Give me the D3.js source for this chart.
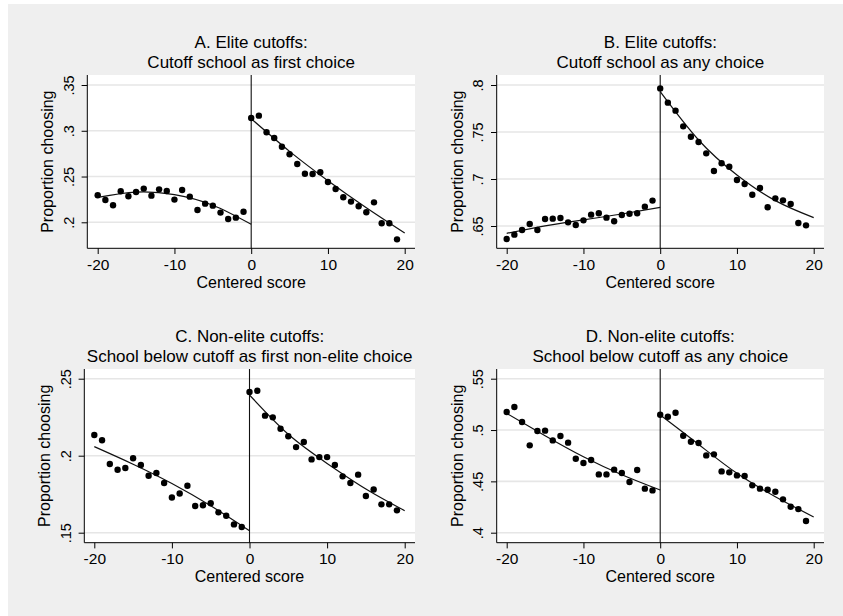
<!DOCTYPE html>
<html>
<head>
<meta charset="utf-8">
<script src="https://cdnjs.cloudflare.com/ajax/libs/d3/7.8.5/d3.min.js"></script>
<style>
  body { margin: 0; background: #fff; }
  svg { display: block; font-family: 'Liberation Sans', Arial, sans-serif; }
</style>
</head>
<body>
<svg></svg>
<script>
'use strict';

// scores (x) for binned points and for the fitted lines
var scoreBelow = [-20, -19, -18, -17, -16, -15, -14, -13, -12, -11, -10, -9, -8, -7, -6, -5, -4, -3, -2, -1];
var scoreAbove = [0, 1, 2, 3, 4, 5, 6, 7, 8, 9, 10, 11, 12, 13, 14, 15, 16, 17, 18, 19];
var fitScoreBelow = [-20, -15, -10, -5, 0];
var fitScoreAbove = [0, 5, 10, 15, 20];
var xTicks = [-20, -10, 0, 10, 20];

// A. Elite cutoffs: cutoff school as first choice
var aBelow = [.2295, .2244, .2186, .2339, .2284, .2331, .2368, .2291, .2360, .2342,
              .2248, .2353, .2280, .2135, .2204, .2182, .2106, .2036, .2051, .2116];
var aAbove = [.3139, .3165, .2983, .2921, .2826, .2743, .2637, .2531, .2528, .2546,
              .2440, .2364, .2273, .2226, .2175, .2109, .2218, .1989, .1989, .1814];
var aFitBelow = [.2273, .2330, .2302, .2186, .1978];
var aFitAbove = [.3132, .2775, .2455, .2160, .1884];
var aTicks = [.2, .25, .3, .35];

// B. Elite cutoffs: cutoff school as any choice
var bBelow = [.6362, .6408, .6457, .6521, .6457, .6574, .6578, .6585, .6539, .6511,
              .6560, .6621, .6635, .6589, .6550, .6617, .6631, .6635, .6706, .6770];
var bAbove = [.7964, .7812, .7727, .7560, .7450, .7394, .7273, .7085, .7167, .7131,
              .6989, .6947, .6833, .6904, .6699, .6794, .6773, .6734, .6532, .6507];
var bFitBelow = [.6422, .6502, .6565, .6628, .6699];
var bFitAbove = [.7929, .7415, .7043, .6770, .6589];
var bTicks = [.65, .7, .75, .8];

// C. Non-elite cutoffs: school below cutoff as first non-elite choice
var cBelow = [.2134, .2100, .1946, .1909, .1920, .1983, .1940, .1870, .1888, .1823,
              .1729, .1755, .1805, .1673, .1678, .1691, .1632, .1610, .1554, .1537];
var cAbove = [.2414, .2422, .2260, .2249, .2175, .2126, .2056, .2089, .1976, .1991,
              .1991, .1940, .1866, .1823, .1877, .1738, .1781, .1684, .1684, .1645];
var cFitBelow = [.2059, .1945, .1820, .1675, .1513];
var cFitAbove = [.2394, .2139, .1950, .1784, .1643];
var cTicks = [.15, .2, .25];

// D. Non-elite cutoffs: school below cutoff as any choice
var dBelow = [.5175, .5224, .5078, .4851, .4990, .4994, .4899, .4942, .4877, .4721,
              .4679, .4708, .4568, .4568, .4614, .4581, .4494, .4610, .4429, .4412];
var dAbove = [.5149, .5130, .5169, .4945, .4886, .4873, .4753, .4763, .4597, .4588,
              .4558, .4552, .4461, .4429, .4419, .4399, .4325, .4253, .4230, .4114];
var dFitBelow = [.5162, .4945, .4740, .4565, .4416];
var dFitAbove = [.5146, .4860, .4578, .4351, .4153];
var dTicks = [.4, .45, .5, .55];

var canvasWidth = 843;
var canvasHeight = 616;

var panels = [
  { title: ['A. Elite cutoffs:', 'Cutoff school as first choice'],
    below: aBelow, above: aAbove, fitBelow: aFitBelow, fitAbove: aFitAbove, ticks: aTicks,
    box: { x0: 87.3, x1: 415, y0: 75, y1: 248.3 }, xRange: [97.7, 404.7], yRange: [222.3, 85] },
  { title: ['B. Elite cutoffs:', 'Cutoff school as any choice'],
    below: bBelow, above: bAbove, fitBelow: bFitBelow, fitAbove: bFitAbove, ticks: bTicks,
    box: { x0: 496.7, x1: 824, y0: 75, y1: 248.3 }, xRange: [506.7, 813.7], yRange: [226, 85] },
  { title: ['C. Non-elite cutoffs:', 'School below cutoff as first non-elite choice'],
    below: cBelow, above: cAbove, fitBelow: cFitBelow, fitAbove: cFitAbove, ticks: cTicks,
    box: { x0: 84.3, x1: 415, y0: 369, y1: 542.7 }, xRange: [94.3, 404.7], yRange: [532.7, 378.7] },
  { title: ['D. Non-elite cutoffs:', 'School below cutoff as any choice'],
    below: dBelow, above: dAbove, fitBelow: dFitBelow, fitAbove: dFitAbove, ticks: dTicks,
    box: { x0: 496.7, x1: 824, y0: 369, y1: 542.7 }, xRange: [506.7, 813.7], yRange: [532.7, 378.7] }
];

var svg = d3.select('svg')
  .attr('width', canvasWidth)
  .attr('height', canvasHeight);

// gray graph region
svg.append('rect')
  .attr('x', 8).attr('y', 4)
  .attr('width', canvasWidth - 8).attr('height', canvasHeight - 4)
  .attr('fill', '#efefef');

// stata style labels: ".25", "-20"
function fmt(d) {
  return String(d).replace(/^0\./, '.');
}

panels.forEach(function(p) {
  var b = p.box;
  var xScale = d3.scaleLinear().domain([-20, 20]).range(p.xRange);
  var yScale = d3.scaleLinear()
    .domain([p.ticks[0], p.ticks[p.ticks.length - 1]])
    .range(p.yRange);
  var g = svg.append('g');

  // plot region
  g.append('rect')
    .attr('x', b.x0).attr('y', b.y0)
    .attr('width', b.x1 - b.x0).attr('height', b.y1 - b.y0)
    .attr('fill', '#fff');

  // horizontal grid
  g.selectAll('.grid')
    .data(p.ticks)
    .enter().append('line')
    .attr('class', 'grid')
    .attr('x1', b.x0).attr('x2', b.x1)
    .attr('y1', function(d) { return yScale(d); })
    .attr('y2', function(d) { return yScale(d); })
    .attr('stroke', '#e6e6e6')
    .attr('stroke-width', 1.6);

  // cutoff line
  g.append('line')
    .attr('x1', xScale(0)).attr('x2', xScale(0))
    .attr('y1', b.y0).attr('y2', b.y1)
    .attr('stroke', '#111')
    .attr('stroke-width', 1.1);

  // fitted lines
  var line = d3.line()
    .x(function(d) { return xScale(d[0]); })
    .y(function(d) { return yScale(d[1]); })
    .curve(d3.curveNatural);
  [[fitScoreBelow, p.fitBelow], [fitScoreAbove, p.fitAbove]].forEach(function(s) {
    g.append('path')
      .attr('d', line(d3.zip(s[0], s[1])))
      .attr('fill', 'none')
      .attr('stroke', '#111')
      .attr('stroke-width', 1.2);
  });

  // binned points
  var pts = d3.zip(scoreBelow, p.below).concat(d3.zip(scoreAbove, p.above));
  g.selectAll('.dot')
    .data(pts)
    .enter().append('circle')
    .attr('class', 'dot')
    .attr('r', 3.2)
    .attr('cx', function(d) { return xScale(d[0]); })
    .attr('cy', function(d) { return yScale(d[1]); })
    .attr('fill', '#000');

  // x axis
  var xAxis = g.append('g')
    .attr('transform', 'translate(0,' + b.y1 + ')')
    .call(d3.axisBottom(xScale).tickValues(xTicks).tickFormat(fmt).tickSize(5.7).tickSizeOuter(0));
  xAxis.select('.domain').remove();
  xAxis.selectAll('text')
    .attr('y', 21.6).attr('dy', 0)
    .attr('fill', '#000')
    .style('font-size', '15.5px')
    .style('font-family', 'Liberation Sans, Arial, sans-serif');
  xAxis.selectAll('line').attr('stroke', '#000');
  g.append('line')
    .attr('x1', b.x0).attr('x2', b.x1)
    .attr('y1', b.y1).attr('y2', b.y1)
    .attr('stroke', '#000');

  // y axis with vertical labels
  var yAxis = g.append('g')
    .attr('transform', 'translate(' + b.x0 + ',0)')
    .call(d3.axisLeft(yScale).tickValues(p.ticks).tickFormat(fmt).tickSize(5.7).tickSizeOuter(0));
  yAxis.select('.domain').remove();
  yAxis.selectAll('text')
    .attr('transform', 'rotate(-90)')
    .attr('x', 0).attr('y', -13.5).attr('dy', 0)
    .attr('text-anchor', 'middle')
    .attr('fill', '#000')
    .style('font-size', '14.5px')
    .style('font-family', 'Liberation Sans, Arial, sans-serif');
  yAxis.selectAll('line').attr('stroke', '#000');
  g.append('line')
    .attr('x1', b.x0).attr('x2', b.x0)
    .attr('y1', b.y0).attr('y2', b.y1)
    .attr('stroke', '#000');

  // axis titles
  g.append('text')
    .attr('x', xScale(0))
    .attr('y', b.y1 + 39.6)
    .attr('text-anchor', 'middle')
    .style('font-size', '16px')
    .text('Centered score');
  g.append('text')
    .attr('transform', 'translate(' + (b.x0 - 34) + ',' + ((b.y0 + b.y1) / 2) + ') rotate(-90)')
    .attr('text-anchor', 'middle')
    .style('font-size', '16px')
    .text('Proportion choosing');

  // panel title
  g.append('text')
    .attr('x', (b.x0 + b.x1) / 2)
    .attr('y', b.y0 - 27)
    .attr('text-anchor', 'middle')
    .style('font-size', '17px')
    .text(p.title[0]);
  g.append('text')
    .attr('x', (b.x0 + b.x1) / 2)
    .attr('y', b.y0 - 7.5)
    .attr('text-anchor', 'middle')
    .style('font-size', '17px')
    .text(p.title[1]);
});
</script>
</body>
</html>
